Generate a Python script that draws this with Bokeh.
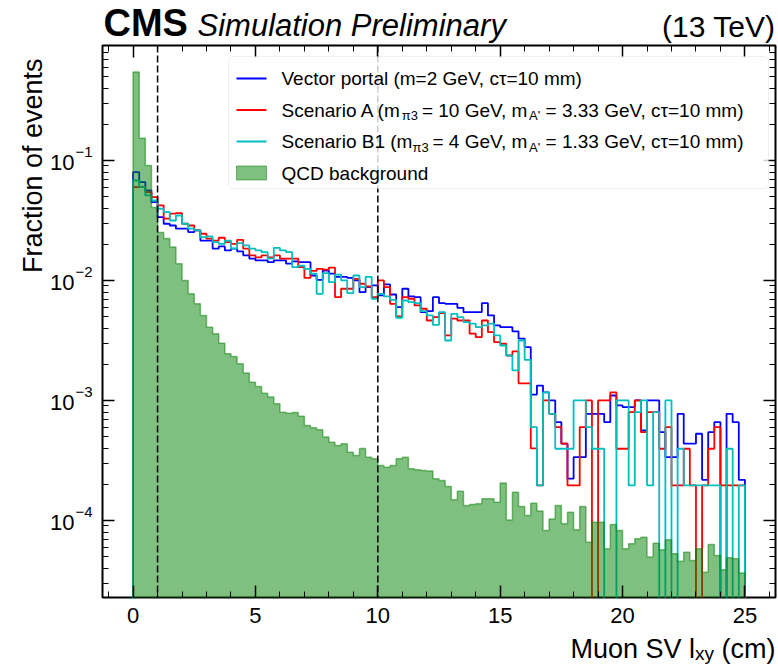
import numpy as np
from bokeh.plotting import figure
from bokeh.layouts import column, row
from bokeh.models import (Label, Span, BoxAnnotation, FixedTicker, LogAxis, LinearAxis,
                          Range1d, CustomJSTickFormatter)
from bokeh.embed import file_html
from bokeh.resources import INLINE

# ---------------- data ----------------
bin_edges = np.linspace(0.0, 25.0, 101)   # Muon SV l_xy bins (cm), 0.25 cm wide

vector_portal = [
    0.0799, 0.0659, 0.0562, 0.0449, 0.0337, 0.0297, 0.0287, 0.0270, 0.0270, 0.0253,
    0.0261, 0.0215, 0.0215, 0.0184, 0.0192, 0.0178, 0.0184, 0.0175, 0.0162, 0.0152,
    0.0147, 0.0147, 0.0142, 0.0147, 0.0147, 0.0138, 0.0144, 0.0142, 0.0142, 0.0110,
    0.0101, 0.0121, 0.0114, 0.0107, 0.0107, 0.0105, 0.0100, 0.00799, 0.00880, 0.00909,
    0.00750, 0.00926, 0.00764, 0.00599, 0.00853, 0.00736, 0.00726, 0.00544, 0.00555, 0.00726,
    0.00647, 0.00639, 0.00639, 0.00592, 0.00544, 0.00544, 0.00544, 0.00647, 0.00511, 0.00422,
    0.00408, 0.00408, 0.00376, 0.00327, 0.00278, 0.00112, 0.00133, 0.00117, 0.00100, 0.000659,
    0.000436, 0.000223, 0.000337, 0.000337, 0.000774, 0.000774, 0.000774, 0.000659, 0.00110, 0.000909,
    0.000880, 0.000880, 0.00100, 0.000562, 0.00100, 0.00100, 0.000544, 0.000337, 0.000337, 0.000774,
    0.000436, 0.000436, 0.000528, 0.000218, 0.000544, 0.000659, 0.0, 0.000774, 0.000659, 0.000218,
]

scenario_a = [
    0.0599, 0.0599, 0.0544, 0.0495, 0.0422, 0.0327, 0.0360, 0.0364, 0.0297, 0.0287,
    0.0261, 0.0245, 0.0223, 0.0215, 0.0227, 0.0209, 0.0202, 0.0218, 0.0184, 0.0162,
    0.0156, 0.0162, 0.0156, 0.0162, 0.0152, 0.0152, 0.0152, 0.0129, 0.0105, 0.0120,
    0.0125, 0.0123, 0.0128, 0.00726, 0.00853, 0.00853, 0.0103, 0.00939, 0.00891, 0.00726,
    0.0100, 0.00880, 0.00639, 0.00501, 0.00726, 0.00704, 0.00619, 0.00581, 0.00464, 0.00495,
    0.00534, 0.00348, 0.00480, 0.00464, 0.00464, 0.00360, 0.00337, 0.00464, 0.00371, 0.00306,
    0.00297, 0.00237, 0.00256, 0.00139, 0.00139, 0.000398, 0.000196, 0.00100, 0.000774, 0.000599,
    0.000436, 0.000196, 0.000196, 0.000599, 0.00100, 0.0, 0.00100, 0.00100, 0.00117, 0.000396,
    0.000396, 0.000799, 0.00100, 0.000544, 0.000799, 0.000799, 0.000396, 0.000599, 0.000196, 0.000196,
    0.000396, 0.000196, 0.0, 0.000196, 0.000396, 0.000599, 0.000196, 0.000196, 0.000196, 0.000196,
]

scenario_b1 = [
    0.0681, 0.0599, 0.0511, 0.0464, 0.0396, 0.0371, 0.0316, 0.0348, 0.0297, 0.0270,
    0.0261, 0.0230, 0.0233, 0.0209, 0.0202, 0.0215, 0.0184, 0.0205, 0.0196, 0.0184,
    0.0178, 0.0172, 0.0152, 0.0187, 0.0178, 0.0172, 0.0129, 0.0133, 0.0125, 0.0114,
    0.00774, 0.0115, 0.00968, 0.0112, 0.0100, 0.00784, 0.0110, 0.00880, 0.0107, 0.00704,
    0.00774, 0.00736, 0.00690, 0.00489, 0.00681, 0.00659, 0.00647, 0.00555, 0.00511, 0.00427,
    0.00544, 0.00316, 0.00527, 0.00495, 0.00449, 0.00436, 0.00408, 0.00422, 0.00436, 0.00348,
    0.00287, 0.00237, 0.00178, 0.00316, 0.00218, 0.000599, 0.000196, 0.00117, 0.000774, 0.000396,
    0.000396, 0.000396, 0.00100, 0.00100, 0.000599, 0.000396, 0.000396, 0.0, 0.0, 0.00100,
    0.00100, 0.000196, 0.000799, 0.00100, 0.000196, 0.000799, 0.0, 0.00100, 0.0, 0.000396,
    0.000196, 0.000196, 0.000196, 0.000196, 0.000196, 0.000196, 0.0, 0.000396, 0.0, 0.000196,
]

qcd_background = [
    0.545, 0.153, 0.0908, 0.0406, 0.0251, 0.0224, 0.0190, 0.0138, 0.0100, 0.00774,
    0.00639, 0.00511, 0.00408, 0.00360, 0.00300, 0.00245, 0.00233, 0.00202, 0.00169, 0.00142,
    0.00131, 0.00115, 0.00107, 0.000939, 0.000799, 0.000784, 0.000794, 0.000740, 0.000619, 0.000592,
    0.000570, 0.000495, 0.000449, 0.000422, 0.000436, 0.000371, 0.000348, 0.000398, 0.000337, 0.000327,
    0.000287, 0.000278, 0.000287, 0.000327, 0.000337, 0.000270, 0.000265, 0.000261, 0.000258, 0.000223,
    0.000215, 0.000192, 0.000149, 0.000175, 0.000133, 0.000136, 0.000138, 0.000152, 0.000152, 0.000142,
    0.000205, 0.000101, 0.000172, 0.000131, 0.000110, 0.000139, 0.000120, 0.0000826, 0.000103, 0.000133,
    0.0000939, 0.000117, 0.0000837, 0.000131, 0.0000659, 0.0000968, 0.0000968, 0.0000581, 0.0000927, 0.0000826,
    0.0000581, 0.0000640, 0.0000704, 0.0000726, 0.0000495, 0.0000647, 0.0000570, 0.0000690, 0.0000528, 0.0000458,
    0.0000544, 0.0000464, 0.0000581, 0.0000371, 0.0000631, 0.0000511, 0.0000388, 0.0000489, 0.0000480, 0.0000364,
]

cut_positions = [1.0, 10.0]
x_tick_values = [0, 5, 10, 15, 20, 25]
x_minor_values = list(range(-1, 27))
y_tick_values = [1e-4, 1e-3, 1e-2, 1e-1]
y_tick_exponents = ["\u22124", "\u22123", "\u22122", "\u22121"]

series_names = ["Vector portal", "Scenario A", "Scenario B1"]
series_colors = ["#0000ff", "#ff0000", "#00bfbf"]
qcd_color = "#008000"

# ---------------- layout constants (page pixels) ----------------
FONT = "Liberation Sans"
PAGE_W, PAGE_H = 778, 664
HEAD_H = 44                     # header strip
LEFT_W = 101                    # strip with y tick labels and y title
FL, FT, FW, FH = 102, 45, 673, 552   # plot frame on the page
FB = FT + FH                    # 597
MAIN_BOTTOM = 36
MAIN_W = PAGE_W - LEFT_W        # 677
MAIN_H = 1 + FH + MAIN_BOTTOM
BOT_H = PAGE_H - HEAD_H - MAIN_H

AW = {' ': 278, '(': 333, ')': 333, '=': 584, ',': 278, '.': 278, "'": 191,
      'A': 667, 'B': 667, 'C': 722, 'D': 722, 'G': 778, 'M': 833, 'Q': 778, 'S': 667,
      'T': 611, 'V': 667, 'a': 556, 'b': 556, 'c': 500, 'd': 556, 'e': 556, 'g': 556,
      'i': 222, 'k': 500, 'l': 222, 'm': 833, 'n': 556, 'o': 556, 'p': 556, 'r': 333,
      's': 500, 't': 278, 'u': 556, 'v': 500, 'x': 500, 'y': 500,
      '\u03c4': 440, '\u03c0': 580}


def tw(s, size):
    return sum(AW.get(ch, 556) for ch in s) * size / 1000.0


def mid(baseline, size):
    """vertical centre of a text whose baseline is at `baseline` (page px)"""
    return baseline - 0.35 * size


def put(fig, x, y, s, size, xu="screen", yu="screen", align="left", style="normal",
        angle=0.0, yoff=0):
    fig.add_layout(Label(x=x, y=y, x_units=xu, y_units=yu, text=s, text_font=FONT,
                         text_font_size=f"{size}px", text_align=align,
                         text_baseline="middle", text_font_style=style,
                         text_color="black", angle=angle, y_offset=yoff))


def blank_fig(w, h, **kw):
    f = figure(width=w, height=h, toolbar_location=None, output_backend="svg",
               x_axis_location=None, y_axis_location=None, **kw)
    f.min_border_left = f.min_border_right = 0
    f.min_border_top = f.min_border_bottom = 0
    f.outline_line_color = None
    f.background_fill_color = "white"
    f.border_fill_color = "white"
    f.grid.visible = False
    return f


# ---------------- main plot ----------------
p = figure(width=MAIN_W, height=MAIN_H,
           x_range=Range1d(-1.25, 26.25), y_range=Range1d(2.28e-5, 0.908),
           y_axis_type="log", output_backend="svg", toolbar_location=None,
           min_border_left=1, min_border_right=MAIN_W - 1 - FW,
           min_border_top=1, min_border_bottom=MAIN_BOTTOM)
p.background_fill_color = "white"
p.border_fill_color = "white"
p.outline_line_color = "black"
p.outline_line_width = 2
p.xgrid.visible = False
p.ygrid.visible = False

y_minor = [m * 10.0 ** e for e in range(-5, 0) for m in range(2, 10)]
xt = FixedTicker(ticks=x_tick_values, minor_ticks=x_minor_values)
yt = FixedTicker(ticks=y_tick_values, minor_ticks=y_minor)


def style_axis(ax, show_labels=False):
    ax.major_tick_in = 12
    ax.major_tick_out = 0
    ax.minor_tick_in = 6
    ax.minor_tick_out = 0
    ax.major_tick_line_color = "black"
    ax.major_tick_line_width = 1.5
    ax.minor_tick_line_color = "black"
    ax.minor_tick_line_width = 1
    ax.axis_line_color = None
    if show_labels:
        ax.major_label_text_font = FONT
        ax.major_label_text_font_size = "22px"
        ax.major_label_text_color = "black"
        ax.major_label_standoff = 10
    else:
        ax.formatter = CustomJSTickFormatter(code="return ''")
        ax.major_label_text_font_size = "1px"
        ax.major_label_text_color = None
        ax.major_label_standoff = 0


p.xaxis[0].ticker = xt
style_axis(p.xaxis[0], True)
p.yaxis[0].ticker = yt
style_axis(p.yaxis[0], False)
top_ax = LinearAxis(ticker=xt)
style_axis(top_ax)
p.add_layout(top_ax, "above")
right_ax = LogAxis(ticker=yt)
style_axis(right_ax)
p.add_layout(right_ax, "right")

FLOOR = 1e-7


def step_xy(vals):
    v = np.asarray(vals, dtype=float)
    v = np.where(v > 0, v, FLOOR)
    xs = np.repeat(bin_edges, 2)
    ys = np.concatenate([[FLOOR], np.repeat(v, 2), [FLOOR]])
    return xs, ys


for vals, col in zip([vector_portal, scenario_a, scenario_b1], series_colors):
    xs, ys = step_xy(vals)
    p.line(xs, ys, line_color=col, line_width=1.8)

qx, qy = step_xy(qcd_background)
p.patch(qx, qy, fill_color=qcd_color, fill_alpha=0.5,
        line_color=qcd_color, line_alpha=0.5, line_width=1.5)

for c in cut_positions:
    p.add_layout(Span(location=c, dimension="height", line_color="black",
                      line_dash="7 3", line_width=1.5))


# legend (inside the frame; screen units relative to the frame's bottom-left)
def sx(px):
    return px - FL


def sy(py):
    return FB - py


box_kw = dict(left_units="screen", right_units="screen", top_units="screen", bottom_units="screen")
rad = {"border_radius": 4} if "border_radius" in BoxAnnotation.properties() else {}
p.add_layout(BoxAnnotation(left=sx(228), right=sx(768), top=sy(56), bottom=sy(188),
                           fill_color="white", fill_alpha=0.8, line_color="#cccccc",
                           line_width=1, **rad, **box_kw))

row_c = [78, 109.5, 141, 172.5]
LS, SS = 19, 13
text_x = 281
for rc, col in zip(row_c[:3], series_colors):
    p.add_layout(BoxAnnotation(left=sx(236), right=sx(266), top=sy(rc - 0.9), bottom=sy(rc + 0.9),
                               fill_color=col, fill_alpha=1.0, line_color=None, **box_kw))
p.add_layout(BoxAnnotation(left=sx(236), right=sx(266), top=sy(165.5), bottom=sy(179.5),
                           fill_color=qcd_color, fill_alpha=0.5, line_color=qcd_color,
                           line_alpha=0.5, line_width=1, **box_kw))


def rich_text(fig, x_start, base_y, pieces, to_sx, to_sy, sub_drop=3.5):
    """pieces: (text, size, is_subscript); base_y = baseline of normal text (page px)"""
    x = x_start
    for s, size, is_sub in pieces:
        stripped = s.lstrip(" ")
        x += tw(s[:len(s) - len(stripped)], size)
        b = base_y + (sub_drop if is_sub else 0)
        put(fig, to_sx(x), to_sy(mid(b, size)), stripped, size)
        x += tw(stripped, size)


legend_rows = [
    [(series_names[0] + " (m=2 GeV, c\u03c4=10 mm)", LS, False)],
    [(series_names[1] + " (m", LS, False), ("\u03c03", SS, True), (" = 10 GeV, m", LS, False),
     ("A'", SS, True), (" = 3.33 GeV, c\u03c4=10 mm)", LS, False)],
    [(series_names[2] + " (m", LS, False), ("\u03c03", SS, True), (" = 4 GeV, m", LS, False),
     ("A'", SS, True), (" = 1.33 GeV, c\u03c4=10 mm)", LS, False)],
    [("QCD background", LS, False)],
]
for rc, pieces in zip(row_c, legend_rows):
    rich_text(p, text_x, rc + 0.35 * LS, pieces, sx, sy)

# ---------------- header strip ----------------
head = blank_fig(PAGE_W, HEAD_H, x_range=Range1d(0, PAGE_W), y_range=Range1d(0, HEAD_H))
hb = 36
put(head, 103, HEAD_H - mid(hb, 38), "CMS", 38, style="bold")
put(head, 197, HEAD_H - mid(hb, 31), "Simulation Preliminary", 31, style="italic")
put(head, 775, HEAD_H - mid(hb, 30), "(13 TeV)", 30, align="right")

# ---------------- left strip (shares the log y scale) ----------------
left = blank_fig(LEFT_W, MAIN_H, x_range=Range1d(0, LEFT_W), y_range=p.y_range,
                 y_axis_type="log")
left.min_border_top = 1
left.min_border_bottom = MAIN_BOTTOM
for v, ex in zip(y_tick_values, y_tick_exponents):
    put(left, 74, v, "10", 22, yu="data", align="right", yoff=-2)
    put(left, 75, v, ex, 15, yu="data", align="left", yoff=8)
put(left, 32, FB - 58, "Fraction of events", 27, align="right", angle=float(np.pi / 2))

# ---------------- bottom strip ----------------
bottom = blank_fig(PAGE_W, BOT_H, x_range=Range1d(0, PAGE_W), y_range=Range1d(0, BOT_H))
xl_pieces = [("Muon SV l", 27, False), ("xy", 19, True), (" (cm)", 27, False)]
xl_w = sum(tw(s, sz) for s, sz, _ in xl_pieces)
rich_text(bottom, 775 - xl_w, 658, xl_pieces, lambda px: px, lambda py: PAGE_H - py, sub_drop=2)

layout = column(head, row(left, p), bottom)
open("out.html", "w").write(file_html(layout, INLINE))
